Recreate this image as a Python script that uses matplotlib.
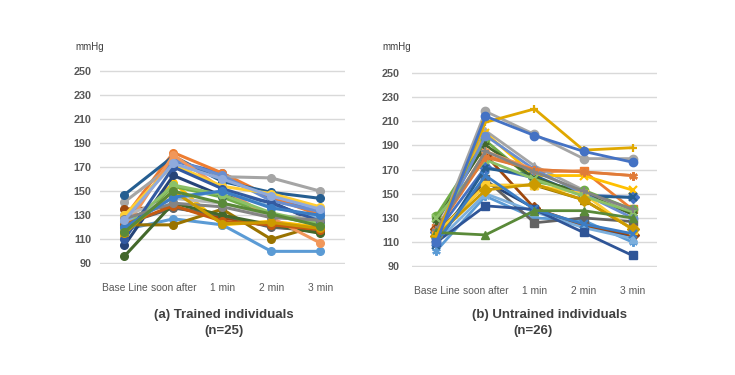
import matplotlib
matplotlib.use("Agg")
import matplotlib.pyplot as plt

plt.rcParams['font.family'] = ['Liberation Sans', 'DejaVu Sans']

categories = ["Base Line", "soon after", "1 min", "2 min", "3 min"]
yticks = [90, 110, 130, 150, 170, 190, 210, 230, 250]

# (a) Trained individuals, 25 series
trained = [
    [125, 175, 165, 143, 134],
    [128, 182, 165, 145, 130],
    [141, 172, 162, 161, 150],
    [113, 157, 122, 125, 120],
    [118, 127, 122, 100, 100],
    [117, 154, 145, 130, 122],
    [105, 163, 146, 141, 123],
    [135, 137, 128, 121, 116],
    [123, 136, 130, 120, 117],
    [122, 122, 135, 110, 122],
    [147, 179, 158, 149, 144],
    [96, 140, 130, 122, 115],
    [124, 176, 163, 142, 133],
    [118, 180, 152, 128, 107],
    [130, 144, 140, 130, 127],
    [130, 172, 154, 148, 137],
    [125, 144, 150, 137, 128],
    [119, 155, 147, 132, 123],
    [110, 170, 152, 140, 125],
    [122, 138, 125, 122, 118],
    [127, 140, 137, 128, 126],
    [115, 150, 123, 124, 119],
    [120, 145, 150, 136, 130],
    [116, 150, 140, 131, 121],
    [126, 173, 160, 146, 135],
]
trained_colors = ["#4472C4", "#ED7D31", "#A5A5A5", "#FFC000", "#5B9BD5", "#70AD47",
                  "#264478", "#9E480E", "#636363", "#997300", "#255E91", "#43682B",
                  "#698ED0", "#F1975A", "#B7B7B7", "#FFCD33", "#7CAFDD", "#8CC168",
                  "#335AA1", "#C55A11", "#848484", "#CC9A00", "#3C7DC4", "#5A8A39",
                  "#8FAADC"]

# (b) Untrained individuals, 26 series
untrained = [
    [118, 172, 163, 149, 147],
    [122, 182, 168, 169, 137],
    [125, 202, 173, 153, 133],
    [118, 200, 165, 165, 153],
    [103, 148, 130, 128, 110],
    [132, 194, 160, 153, 137],
    [112, 160, 138, 123, 115],
    [121, 182, 138, 124, 116],
    [115, 162, 126, 130, 127],
    [118, 157, 157, 145, 121],
    [108, 171, 165, 148, 147],
    [128, 190, 163, 150, 133],
    [116, 198, 170, 150, 130],
    [120, 185, 170, 168, 165],
    [115, 218, 199, 179, 179],
    [117, 157, 157, 150, 120],
    [110, 150, 135, 122, 113],
    [130, 178, 162, 148, 135],
    [110, 140, 137, 118, 99],
    [120, 180, 170, 168, 165],
    [120, 185, 168, 152, 137],
    [115, 153, 158, 145, 121],
    [110, 165, 137, 125, 117],
    [118, 116, 136, 136, 130],
    [115, 209, 220, 186, 188],
    [110, 214, 198, 185, 176],
]
untrained_colors = ["#4472C4", "#ED7D31", "#A5A5A5", "#FFC000", "#5B9BD5", "#70AD47",
                    "#264478", "#9E480E", "#636363", "#997300", "#255E91", "#43682B",
                    "#698ED0", "#F1975A", "#A5A5A5", "#FFCD33", "#7CAFDD", "#8CC168",
                    "#2F5597", "#E07B39", "#848484", "#CC9A00", "#3C7DC4", "#5A8A39",
                    "#E0A800", "#4472C4"]
ASTER = (6, 2, 0)
untrained_markers = ["D", "s", "^", "x", ASTER, "o", "+", "D", "s", "^", "x", ASTER, "o",
                     ASTER, "o", "s", "^", "x", "s", ASTER, "+", "D", "x", "^", "+", "o"]

fig = plt.figure(figsize=(7.35, 3.75), dpi=100)
axL = fig.add_axes([0.136, 0.296, 0.333, 0.517])
axR = fig.add_axes([0.5605, 0.288, 0.3334, 0.520])

x = list(range(len(categories)))

def style(ax, pad):
    ax.set_xlim(-0.5, 4.5)
    ax.set_ylim(89.5, 250.5)
    ax.set_yticks(yticks)
    ax.set_xticks(x)
    ax.set_xticklabels(categories)
    for s in ax.spines.values():
        s.set_visible(False)
    ax.grid(axis='y', color='#D9D9D9', linewidth=1.0)
    ax.set_axisbelow(True)
    ax.tick_params(axis='both', length=0, colors='#595959', labelsize=7.4)
    ax.tick_params(axis='y', pad=pad, labelsize=7.8)
    ax.tick_params(axis='x', pad=14)
    for lab in ax.get_yticklabels():
        lab.set_fontweight('bold')
        lab.set_color('#595959')

for vals, c in zip(trained, trained_colors):
    axL.plot(x, vals, color=c, linewidth=2.2, marker='o', markersize=5.5,
             markeredgecolor=c, clip_on=False)

for vals, c, m in zip(untrained, untrained_colors, untrained_markers):
    lw_m = 1.6 if m in ("x", "+", ASTER) else 1.0
    axR.plot(x, vals, color=c, linewidth=2.0, marker=m, markersize=6,
             markeredgecolor=c, markeredgewidth=lw_m, clip_on=False)

style(axL, 6)
style(axR, 9)

fig.text(75 / 735, 1 - 47 / 375, "mmHg", fontsize=7.0, color='#404040', va='center', ha='left')
fig.text(382 / 735, 1 - 47 / 375, "mmHg", fontsize=7.0, color='#404040', va='center', ha='left')

fig.text(224 / 735, 1 - 315 / 375, "(a) Trained individuals", fontsize=9.5,
         fontweight='bold', color='#404040', ha='center', va='center')
fig.text(224 / 735, 1 - 331 / 375, "(n=25)", fontsize=9.5,
         fontweight='bold', color='#404040', ha='center', va='center')
fig.text(550 / 735, 1 - 315 / 375, "(b) Untrained individuals", fontsize=9.5,
         fontweight='bold', color='#404040', ha='center', va='center')
fig.text(533 / 735, 1 - 331 / 375, "(n=26)", fontsize=9.5,
         fontweight='bold', color='#404040', ha='center', va='center')

fig.savefig("out.png", dpi=100, facecolor='white')
